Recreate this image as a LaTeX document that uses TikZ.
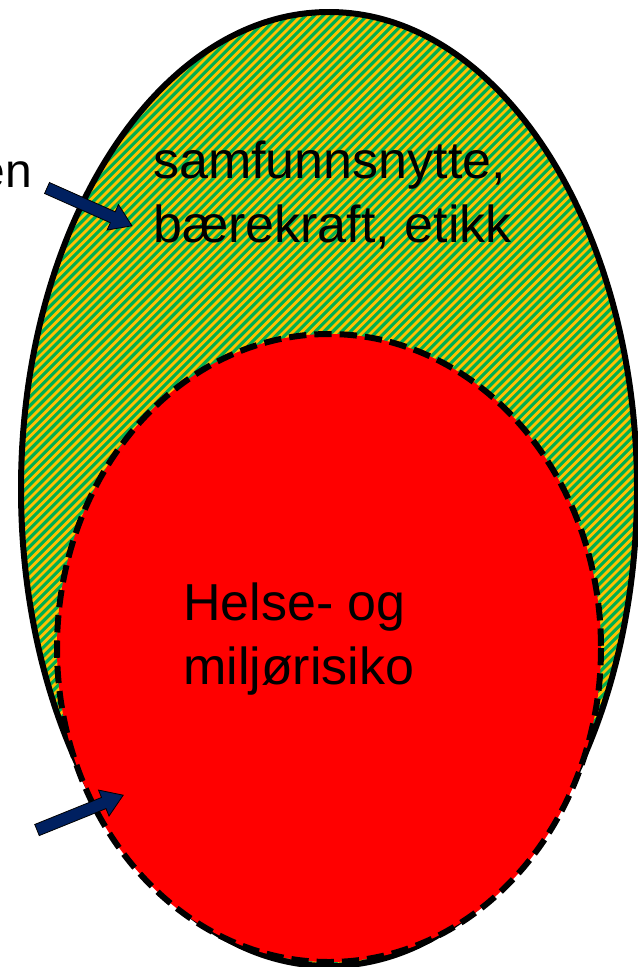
\documentclass[tikz,border=0pt]{standalone}
\usepackage{fontspec}
\setmainfont{Liberation Sans}
\definecolor{hatchgreen}{HTML}{00B050}
\definecolor{hatchyellow}{HTML}{FFC000}
\definecolor{riskred}{HTML}{FF0000}
\definecolor{pointerblue}{HTML}{002060}
\tikzset{
  bigtext/.style={font=\fontsize{39}{48}\selectfont, align=left, inner sep=0pt},
  pointer/.style={fill=pointerblue, draw=black, line width=0.6pt},
}
\begin{document}
\begin{tikzpicture}[x=0.75pt,y=-0.75pt]
\useasboundingbox (0,0) rectangle (638,967);

% outer ellipse with stripes
\fill[hatchgreen] (329,489) ellipse [x radius=308, y radius=477];
\begin{scope}
\clip (329,489) ellipse [x radius=308, y radius=477];
\foreach \a in {0,...,188}
  \draw[hatchyellow, line width=2.1pt] ({-1000+8.8*\a},1000) -- ({8.8*\a},0);
\end{scope}
\draw[line width=4.5pt] (329,489) ellipse [x radius=308, y radius=477];

% inner ellipse
\filldraw[fill=riskred, draw=black, line width=4.5pt, dash pattern=on 13pt off 6pt]
  (329,648) ellipse [x radius=272, y radius=314];

\node[bigtext, anchor=base west] (outerlabel) at (153,242) {samfunnsnytte,\\bærekraft, etikk};
\node[bigtext, anchor=base west] (innerlabel) at (183,684) {Helse- og\\miljørisiko};
\node[bigtext, font=\fontsize{36}{44}\selectfont, anchor=base east] (sidelabel) at (32,187) {en};

% pointers
\coordinate (ptrtop) at (47,188);
\coordinate (ptrbottom) at (37,830);
\begin{scope}[shift={(ptrtop)}, rotate=-24]
\filldraw[pointer] (0,-6) -- (72,-6) -- (72,-14) -- (93,0) -- (72,14) -- (72,6) -- (0,6) -- cycle;
\end{scope}
\begin{scope}[shift={(ptrbottom)}, rotate=22]
\filldraw[pointer] (0,-6) -- (72,-6) -- (72,-14) -- (93,0) -- (72,14) -- (72,6) -- (0,6) -- cycle;
\end{scope}
\end{tikzpicture}
\end{document}
